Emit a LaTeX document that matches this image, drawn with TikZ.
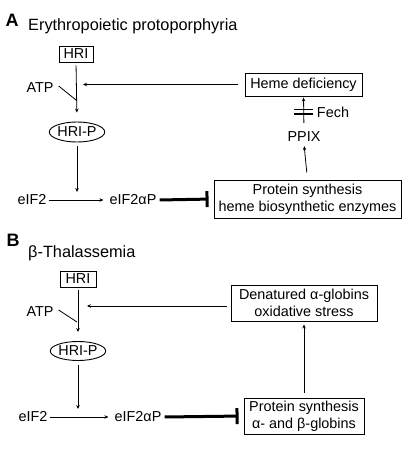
\documentclass[tikz,border=0pt]{standalone}
\usepackage{fontspec}
\setmainfont{Liberation Sans}
\usetikzlibrary{arrows.meta,calc,shapes.geometric}
\begin{document}
\begin{tikzpicture}[x=1pt,y=-1pt,
  every node/.style={font=\fontsize{14.4}{17}\selectfont, inner sep=2pt},
  lbl/.style={font=\fontsize{18}{18}\selectfont\bfseries},
  ttl/.style={font=\fontsize{16.3}{18}\selectfont, anchor=base west, inner sep=0pt},
  box/.style={draw, line width=0.9pt, align=center, inner sep=0pt},
  oval/.style={draw, ellipse, line width=0.9pt, inner sep=0pt},
  conn/.style={line width=0.8pt},
  arr/.style={line width=0.8pt, -{Stealth[length=4pt,width=3.5pt]}},
  inhib/.style={line width=3pt, -{Bar[width=16pt,line width=3pt]}}
]
\useasboundingbox (0,0) rectangle (413,458);

% ---------- Panel A ----------
\node[lbl] (labA) at (12,20) {A};
\node[ttl] (titleA) at (28,30) {Erythropoietic protoporphyria};
\node[box, minimum width=34, minimum height=16] (hriA) at (76,54) {HRI};
\node (atpA) at (40,88) {ATP};
\node[oval, minimum width=52, minimum height=20] (hripA) at (77,132) {HRI-P};
\node (eif2A) at (32,200) {eIF2};
\node (eifpA) at (133,200) {eIF2αP};
\node[box, minimum width=187, minimum height=38] (protA) at (307.5,199) {Protein synthesis\\heme biosynthetic enzymes};
\node[box, minimum width=117, minimum height=23] (hemeA) at (303.5,84.5) {Heme deficiency};
\node (ppixA) at (304,137) {PPIX};
\node (fechA) at (333,112) {Fech};
\coordinate (jA) at (76,100);
\coordinate (downA) at (77,200);

\draw[arr, shorten <=3pt, shorten >=9pt] (hriA.south) -- (hripA.north);
\draw[conn] ($(atpA.east)+(3,-2)$) -- (jA);
\draw[arr, shorten <=7pt, shorten >=7pt] (hemeA.west) -- (hemeA.west -| hriA.south);
\draw[arr, shorten <=4pt, shorten >=8pt] (hripA.south) -- (downA);
\draw[arr, shorten <=0pt, shorten >=4pt] (eif2A.east) -- (eifpA.west);
\draw[inhib, shorten <=1pt, shorten >=5pt] (eifpA.east) -- (protA.west);
\draw[arr, shorten <=7pt, shorten >=2pt] (protA.north) -- (ppixA.south);
\draw[arr, shorten <=7pt, shorten >=1pt] (ppixA.north) -- (hemeA.south);
\draw[line width=1.4pt] (294,109.5) -- (313,109.5);
\draw[line width=1.4pt] (294,114) -- (313,114);

% ---------- Panel B ----------
\node[lbl] (labB) at (13,240) {B};
\node[ttl] (titleB) at (28,257) {β-Thalassemia};
\node[box, minimum width=36, minimum height=16] (hriB) at (78,279) {HRI};
\node (atpB) at (40,312) {ATP};
\node[oval, minimum width=52, minimum height=19] (hripB) at (78,351) {HRI-P};
\node (eif2B) at (33,417) {eIF2};
\node (eifpB) at (138,417) {eIF2αP};
\node[box, minimum width=120, minimum height=36] (protB) at (304,416) {Protein synthesis\\α- and β-globins};
\node[box, minimum width=146, minimum height=36] (denB) at (304,303) {Denatured α-globins\\oxidative stress};
\coordinate (jB) at (77,322);
\coordinate (downB) at (78,417);

\draw[arr, shorten <=3pt, shorten >=9pt] (hriB.south) -- (hripB.north);
\draw[conn] ($(atpB.east)+(3,-2)$) -- (jB);
\draw[arr, shorten <=4pt, shorten >=9pt] (denB.west |- 0,306) -- (hriB.south |- 0,306);
\draw[arr, shorten <=4pt, shorten >=8pt] (hripB.south) -- (downB);
\draw[arr, shorten <=0pt, shorten >=4pt] (eif2B.east) -- (eifpB.west);
\draw[inhib, shorten <=1pt, shorten >=5pt] (eifpB.east) -- (protB.west);
\draw[arr, shorten <=5pt, shorten >=3pt] (protB.north) -- (denB.south);
\end{tikzpicture}
\end{document}
